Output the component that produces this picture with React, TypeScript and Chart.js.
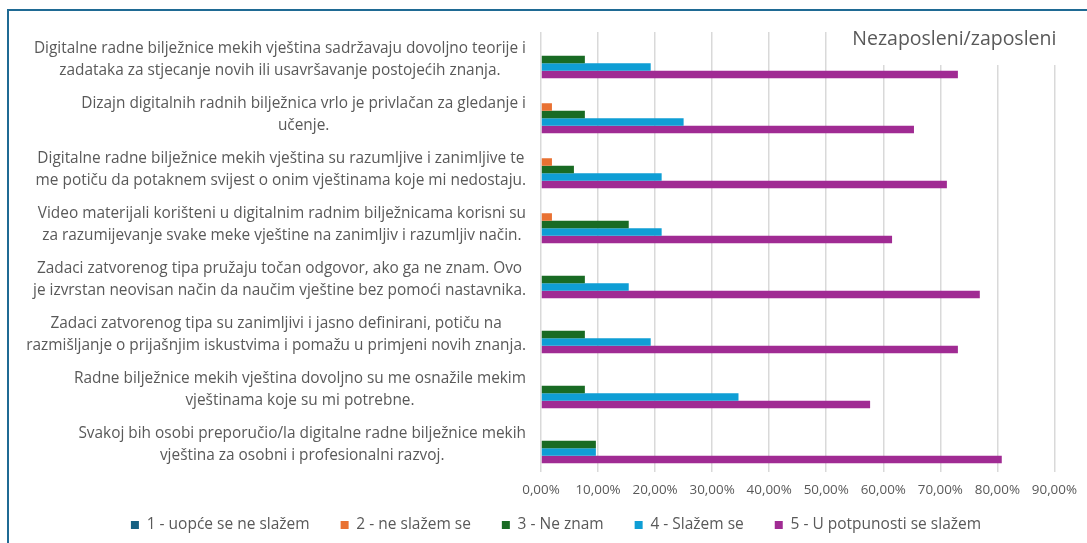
import React, { useEffect, useRef } from "react";
import { Chart, registerables } from "chart.js";

Chart.register(...registerables);

const categories: string[][] = [
  ["Digitalne radne bilježnice mekih vještina sadržavaju dovoljno teorije i", "zadataka za stjecanje novih ili usavršavanje postojećih znanja."],
  ["Dizajn digitalnih radnih bilježnica vrlo je privlačan za gledanje i", "učenje."],
  ["Digitalne radne bilježnice mekih vještina su razumljive i zanimljive te", "me potiču da potaknem svijest o onim vještinama koje mi nedostaju."],
  ["Video materijali korišteni u digitalnim radnim bilježnicama korisni su", "za razumijevanje svake meke vještine na zanimljiv i razumljiv način."],
  ["Zadaci zatvorenog tipa pružaju točan odgovor, ako ga ne znam. Ovo", "je izvrstan neovisan način da naučim vještine bez pomoći nastavnika."],
  ["Zadaci zatvorenog tipa su zanimljivi i jasno definirani, potiču na", "razmišljanje o prijašnjim iskustvima i pomažu u primjeni novih znanja."],
  ["Radne bilježnice mekih vještina dovoljno su me osnažile mekim", "vještinama koje su mi potrebne."],
  ["Svakoj bih osobi preporučio/la digitalne radne bilježnice mekih", "vještina za osobni i profesionalni razvoj."],
];

const seriesNames = [
  "1 - uopće se ne slažem",
  "2 - ne slažem se",
  "3 - Ne znam",
  "4 - Slažem se",
  "5 - U potpunosti se slažem",
];

const s1 = [0, 0, 0, 0, 0, 0, 0, 0];
const s2 = [0, 1.92, 1.92, 1.92, 0, 0, 0, 0];
const s3 = [7.69, 7.69, 5.77, 15.38, 7.69, 7.69, 7.69, 9.62];
const s4 = [19.23, 25.0, 21.15, 21.15, 15.38, 19.23, 34.62, 9.62];
const s5 = [73.08, 65.38, 71.15, 61.54, 76.92, 73.08, 57.69, 80.77];

const colors = ["#156082", "#E97132", "#196B24", "#0F9ED5", "#A02B93"];

const chartTitle = "Nezaposleni/zaposleni";

const FONT = "'Open Sans', 'DejaVu Sans', sans-serif";

export default function App() {
  const ref = useRef<HTMLCanvasElement | null>(null);

  useEffect(() => {
    if (!ref.current) return;
    const axisAreaPlugin = {
      id: "axisArea",
      afterLayout(chart: any) {
        const x = chart.scales.x;
        x.bottom = x.top + 30;
      },
    };
    const labelPlugin = {
      id: "blockLabels",
      afterDraw(chart: any) {
        const { ctx, chartArea } = chart;
        const yScale = chart.scales.y;
        ctx.save();
        ctx.font = `15.4px ${FONT}`;
        ctx.fillStyle = "#595959";
        ctx.textAlign = "center";
        ctx.textBaseline = "middle";
        const rightEdge = chartArea.left - 15;
        const lineH = 22;
        categories.forEach((lines, i) => {
          const maxW = Math.max(...lines.map((l) => ctx.measureText(l).width));
          const cx = rightEdge - maxW / 2;
          const yc = yScale.getPixelForTick(i);
          lines.forEach((l, j) => {
            ctx.fillText(l, cx, yc + (j - (lines.length - 1) / 2) * lineH);
          });
        });
        ctx.restore();
      },
    };
    const titlePlugin = {
      id: "cornerTitle",
      afterDraw(chart: any) {
        const { ctx, chartArea } = chart;
        ctx.save();
        ctx.fillStyle = "#ffffff";
        ctx.fillRect(846, chartArea.top - 1, 240, 34);
        ctx.fillStyle = "#595959";
        ctx.font = `19.5px ${FONT}`;
        ctx.textAlign = "right";
        ctx.textBaseline = "middle";
        ctx.fillText(chartTitle, chartArea.right + 2, chartArea.top + 7);
        ctx.restore();
      },
    };
    const data = [s1, s2, s3, s4, s5];
    const chart = new Chart(ref.current, {
      type: "bar",
      data: {
        labels: categories.map((c) => c.join(" ")),
        datasets: data.map((d, i) => ({
          label: seriesNames[i],
          data: d,
          backgroundColor: colors[i],
          borderWidth: 0,
          categoryPercentage: 0.68,
          barPercentage: 1.0,
        })),
      },
      options: {
        indexAxis: "y",
        animation: false,
        responsive: false,
        layout: { padding: { left: 54, right: 29, top: 32, bottom: 0.25 } },
        plugins: {
          legend: {
            position: "bottom",
            labels: {
              boxWidth: 8,
              boxHeight: 8,
              padding: 31,
              color: "#595959",
              font: { family: FONT, size: 15.5 },
            },
          },
          tooltip: { enabled: false },
          title: { display: false },
        },
        scales: {
          x: {
            min: 0,
            max: 90,
            ticks: {
              stepSize: 10,
              color: "#595959",
              padding: 10,
              font: { family: FONT, size: 13.4 },
              callback: (v: any) => `${Number(v).toFixed(2).replace(".", ",")}%`,
            },
            grid: { color: "#d9d9d9", lineWidth: 1.5, drawTicks: false },
            border: { display: false },
            afterFit: (scale: any) => {
              scale.height = 14.25;
            },
          },
          y: {
            ticks: { display: false },
            grid: { display: false },
            border: { display: false },
            afterFit: (scale: any) => {
              scale.width = 487;
            },
          },
        },
      },
      plugins: [axisAreaPlugin, labelPlugin, titlePlugin],
    } as any);
    return () => chart.destroy();
  }, []);

  return (
    <div style={{ position: "fixed", left: 0, top: 0, width: 1087, height: 543, overflow: "hidden", background: "#fff" }}>
      <canvas ref={ref} width={1087} height={543} style={{ position: "absolute", left: 0, top: 0 }} />
      <div
        style={{
          position: "absolute",
          left: 7,
          top: 9,
          width: 1200,
          height: 600,
          borderLeft: "2px solid #1F6A94",
          borderTop: "2px solid #1F6A94",
          boxSizing: "border-box",
          pointerEvents: "none",
        }}
      />
    </div>
  );
}
